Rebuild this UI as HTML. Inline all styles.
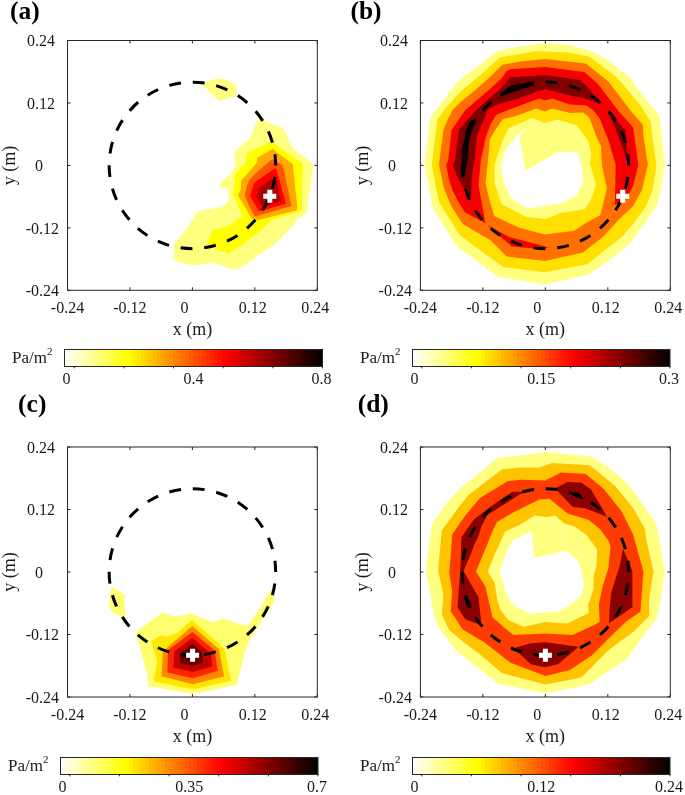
<!DOCTYPE html>
<html><head><meta charset="utf-8"><style>
html,body{margin:0;padding:0;background:#fff;}
svg{display:block;filter:blur(0.4px);}
.ax{stroke:#262626;stroke-width:1;fill:none;}
text{font-family:"Liberation Serif",serif;fill:#1a1a1a;}
.tk{font-size:16px;}
.lb{font-size:18px;}
.pl{font-size:25.5px;font-weight:bold;fill:#000;}
</style></head><body>
<svg width="685" height="795" viewBox="0 0 685 795">
<defs><linearGradient id="hotr" x1="0" x2="1" y1="0" y2="0"><stop offset="0.0000" stop-color="rgb(255,255,247)"/><stop offset="0.0156" stop-color="rgb(255,255,247)"/><stop offset="0.0156" stop-color="rgb(255,255,231)"/><stop offset="0.0312" stop-color="rgb(255,255,231)"/><stop offset="0.0312" stop-color="rgb(255,255,215)"/><stop offset="0.0469" stop-color="rgb(255,255,215)"/><stop offset="0.0469" stop-color="rgb(255,255,199)"/><stop offset="0.0625" stop-color="rgb(255,255,199)"/><stop offset="0.0625" stop-color="rgb(255,255,183)"/><stop offset="0.0781" stop-color="rgb(255,255,183)"/><stop offset="0.0781" stop-color="rgb(255,255,167)"/><stop offset="0.0938" stop-color="rgb(255,255,167)"/><stop offset="0.0938" stop-color="rgb(255,255,151)"/><stop offset="0.1094" stop-color="rgb(255,255,151)"/><stop offset="0.1094" stop-color="rgb(255,255,135)"/><stop offset="0.1250" stop-color="rgb(255,255,135)"/><stop offset="0.1250" stop-color="rgb(255,255,120)"/><stop offset="0.1406" stop-color="rgb(255,255,120)"/><stop offset="0.1406" stop-color="rgb(255,255,104)"/><stop offset="0.1562" stop-color="rgb(255,255,104)"/><stop offset="0.1562" stop-color="rgb(255,255,88)"/><stop offset="0.1719" stop-color="rgb(255,255,88)"/><stop offset="0.1719" stop-color="rgb(255,255,72)"/><stop offset="0.1875" stop-color="rgb(255,255,72)"/><stop offset="0.1875" stop-color="rgb(255,255,56)"/><stop offset="0.2031" stop-color="rgb(255,255,56)"/><stop offset="0.2031" stop-color="rgb(255,255,40)"/><stop offset="0.2188" stop-color="rgb(255,255,40)"/><stop offset="0.2188" stop-color="rgb(255,255,24)"/><stop offset="0.2344" stop-color="rgb(255,255,24)"/><stop offset="0.2344" stop-color="rgb(255,255,8)"/><stop offset="0.2500" stop-color="rgb(255,255,8)"/><stop offset="0.2500" stop-color="rgb(255,250,0)"/><stop offset="0.2656" stop-color="rgb(255,250,0)"/><stop offset="0.2656" stop-color="rgb(255,239,0)"/><stop offset="0.2812" stop-color="rgb(255,239,0)"/><stop offset="0.2812" stop-color="rgb(255,228,0)"/><stop offset="0.2969" stop-color="rgb(255,228,0)"/><stop offset="0.2969" stop-color="rgb(255,218,0)"/><stop offset="0.3125" stop-color="rgb(255,218,0)"/><stop offset="0.3125" stop-color="rgb(255,207,0)"/><stop offset="0.3281" stop-color="rgb(255,207,0)"/><stop offset="0.3281" stop-color="rgb(255,197,0)"/><stop offset="0.3438" stop-color="rgb(255,197,0)"/><stop offset="0.3438" stop-color="rgb(255,186,0)"/><stop offset="0.3594" stop-color="rgb(255,186,0)"/><stop offset="0.3594" stop-color="rgb(255,175,0)"/><stop offset="0.3750" stop-color="rgb(255,175,0)"/><stop offset="0.3750" stop-color="rgb(255,165,0)"/><stop offset="0.3906" stop-color="rgb(255,165,0)"/><stop offset="0.3906" stop-color="rgb(255,154,0)"/><stop offset="0.4062" stop-color="rgb(255,154,0)"/><stop offset="0.4062" stop-color="rgb(255,143,0)"/><stop offset="0.4219" stop-color="rgb(255,143,0)"/><stop offset="0.4219" stop-color="rgb(255,133,0)"/><stop offset="0.4375" stop-color="rgb(255,133,0)"/><stop offset="0.4375" stop-color="rgb(255,122,0)"/><stop offset="0.4531" stop-color="rgb(255,122,0)"/><stop offset="0.4531" stop-color="rgb(255,112,0)"/><stop offset="0.4688" stop-color="rgb(255,112,0)"/><stop offset="0.4688" stop-color="rgb(255,101,0)"/><stop offset="0.4844" stop-color="rgb(255,101,0)"/><stop offset="0.4844" stop-color="rgb(255,90,0)"/><stop offset="0.5000" stop-color="rgb(255,90,0)"/><stop offset="0.5000" stop-color="rgb(255,80,0)"/><stop offset="0.5156" stop-color="rgb(255,80,0)"/><stop offset="0.5156" stop-color="rgb(255,69,0)"/><stop offset="0.5312" stop-color="rgb(255,69,0)"/><stop offset="0.5312" stop-color="rgb(255,58,0)"/><stop offset="0.5469" stop-color="rgb(255,58,0)"/><stop offset="0.5469" stop-color="rgb(255,48,0)"/><stop offset="0.5625" stop-color="rgb(255,48,0)"/><stop offset="0.5625" stop-color="rgb(255,37,0)"/><stop offset="0.5781" stop-color="rgb(255,37,0)"/><stop offset="0.5781" stop-color="rgb(255,27,0)"/><stop offset="0.5938" stop-color="rgb(255,27,0)"/><stop offset="0.5938" stop-color="rgb(255,16,0)"/><stop offset="0.6094" stop-color="rgb(255,16,0)"/><stop offset="0.6094" stop-color="rgb(255,5,0)"/><stop offset="0.6250" stop-color="rgb(255,5,0)"/><stop offset="0.6250" stop-color="rgb(250,0,0)"/><stop offset="0.6406" stop-color="rgb(250,0,0)"/><stop offset="0.6406" stop-color="rgb(239,0,0)"/><stop offset="0.6562" stop-color="rgb(239,0,0)"/><stop offset="0.6562" stop-color="rgb(228,0,0)"/><stop offset="0.6719" stop-color="rgb(228,0,0)"/><stop offset="0.6719" stop-color="rgb(218,0,0)"/><stop offset="0.6875" stop-color="rgb(218,0,0)"/><stop offset="0.6875" stop-color="rgb(207,0,0)"/><stop offset="0.7031" stop-color="rgb(207,0,0)"/><stop offset="0.7031" stop-color="rgb(197,0,0)"/><stop offset="0.7188" stop-color="rgb(197,0,0)"/><stop offset="0.7188" stop-color="rgb(186,0,0)"/><stop offset="0.7344" stop-color="rgb(186,0,0)"/><stop offset="0.7344" stop-color="rgb(175,0,0)"/><stop offset="0.7500" stop-color="rgb(175,0,0)"/><stop offset="0.7500" stop-color="rgb(165,0,0)"/><stop offset="0.7656" stop-color="rgb(165,0,0)"/><stop offset="0.7656" stop-color="rgb(154,0,0)"/><stop offset="0.7812" stop-color="rgb(154,0,0)"/><stop offset="0.7812" stop-color="rgb(143,0,0)"/><stop offset="0.7969" stop-color="rgb(143,0,0)"/><stop offset="0.7969" stop-color="rgb(133,0,0)"/><stop offset="0.8125" stop-color="rgb(133,0,0)"/><stop offset="0.8125" stop-color="rgb(122,0,0)"/><stop offset="0.8281" stop-color="rgb(122,0,0)"/><stop offset="0.8281" stop-color="rgb(112,0,0)"/><stop offset="0.8438" stop-color="rgb(112,0,0)"/><stop offset="0.8438" stop-color="rgb(101,0,0)"/><stop offset="0.8594" stop-color="rgb(101,0,0)"/><stop offset="0.8594" stop-color="rgb(90,0,0)"/><stop offset="0.8750" stop-color="rgb(90,0,0)"/><stop offset="0.8750" stop-color="rgb(80,0,0)"/><stop offset="0.8906" stop-color="rgb(80,0,0)"/><stop offset="0.8906" stop-color="rgb(69,0,0)"/><stop offset="0.9062" stop-color="rgb(69,0,0)"/><stop offset="0.9062" stop-color="rgb(58,0,0)"/><stop offset="0.9219" stop-color="rgb(58,0,0)"/><stop offset="0.9219" stop-color="rgb(48,0,0)"/><stop offset="0.9375" stop-color="rgb(48,0,0)"/><stop offset="0.9375" stop-color="rgb(37,0,0)"/><stop offset="0.9531" stop-color="rgb(37,0,0)"/><stop offset="0.9531" stop-color="rgb(27,0,0)"/><stop offset="0.9688" stop-color="rgb(27,0,0)"/><stop offset="0.9688" stop-color="rgb(16,0,0)"/><stop offset="0.9844" stop-color="rgb(16,0,0)"/><stop offset="0.9844" stop-color="rgb(5,0,0)"/><stop offset="1.0000" stop-color="rgb(5,0,0)"/></linearGradient></defs>
<polygon points="202.7,85 207.8,81 217.6,78.4 227.8,80.2 235.5,85.3 237,90.1 235.9,95.9 219.1,101 211.8,94.1" fill="#FFFF80"/>
<polygon points="258.4,118.8 282.3,127.8 285.5,132 290.6,144.5 292.8,147.9 313.2,164.3 310.5,185 307,212.5 297.4,219.5 289,230 274.9,244 256.2,256.9 241,267.4 235.1,270 212.9,263 192.4,265.3 173.8,260.6 174.3,243.7 189.5,225 194.8,215 197.7,211.3 222.2,206.6 228.6,201.6 227.5,187.6 222.2,188.8 219.3,184.7 230.4,173.1 235,166.1 235,150.3 249.1,139.2" fill="#FFFF80"/>
<polygon points="271.5,141.5 303,164.3 302,187 301.9,210.2 300,211.4 272.6,219.5 258.5,232.4 243.4,244 228.6,253.4 205.9,245.4 212.9,229.7 225.7,227.3 242.5,216.6 233.3,194 235,180 235,175.4 239.7,168.4 246.1,162.6 246.7,153.2" fill="#FFFF00"/>
<polygon points="272.5,149.1 292.8,164.3 297.4,207.9 297.1,210.2 258.5,220.1 251.5,218.4 245,206.9 238,195.2 240.5,190 241.5,180 249,171.9 256.6,163.1 257.2,157.9" fill="#FFAA00"/>
<polygon points="272.5,159.2 282.8,165.6 291.5,206 255,216.6 249.5,207 244.7,195 247,186 249.3,180 258.4,170.7 268.7,162" fill="#FF5500"/>
<polygon points="275.3,168 276.4,169.5 285.9,203.8 258.9,211.5 250.1,195.8 254.5,182.6" fill="#FF0000"/>
<polygon points="274.5,177.5 276.5,181 281,201.6 261.5,206 256.7,196.5 259,187.7" fill="#AA0000"/>
<line x1="67.50" y1="290.30" x2="67.50" y2="287.30" class="ax"/>
<line x1="67.50" y1="40.50" x2="67.50" y2="43.50" class="ax"/>
<line x1="67.50" y1="290.30" x2="70.50" y2="290.30" class="ax"/>
<line x1="317.30" y1="290.30" x2="314.30" y2="290.30" class="ax"/>
<text x="67.50" y="313.30" class="tk" text-anchor="middle">-0.24</text>
<text x="59.00" y="296.10" class="tk" text-anchor="end">-0.24</text>
<line x1="129.95" y1="290.30" x2="129.95" y2="287.30" class="ax"/>
<line x1="129.95" y1="40.50" x2="129.95" y2="43.50" class="ax"/>
<line x1="67.50" y1="227.85" x2="70.50" y2="227.85" class="ax"/>
<line x1="317.30" y1="227.85" x2="314.30" y2="227.85" class="ax"/>
<text x="129.95" y="313.30" class="tk" text-anchor="middle">-0.12</text>
<text x="59.00" y="233.65" class="tk" text-anchor="end">-0.12</text>
<line x1="192.40" y1="290.30" x2="192.40" y2="287.30" class="ax"/>
<line x1="192.40" y1="40.50" x2="192.40" y2="43.50" class="ax"/>
<line x1="67.50" y1="165.40" x2="70.50" y2="165.40" class="ax"/>
<line x1="317.30" y1="165.40" x2="314.30" y2="165.40" class="ax"/>
<text x="184.40" y="313.30" class="tk" text-anchor="middle">0</text>
<text x="43.00" y="171.20" class="tk" text-anchor="end">0</text>
<line x1="254.85" y1="290.30" x2="254.85" y2="287.30" class="ax"/>
<line x1="254.85" y1="40.50" x2="254.85" y2="43.50" class="ax"/>
<line x1="67.50" y1="102.95" x2="70.50" y2="102.95" class="ax"/>
<line x1="317.30" y1="102.95" x2="314.30" y2="102.95" class="ax"/>
<text x="252.85" y="313.30" class="tk" text-anchor="middle">0.12</text>
<text x="55.00" y="108.75" class="tk" text-anchor="end">0.12</text>
<line x1="317.30" y1="290.30" x2="317.30" y2="287.30" class="ax"/>
<line x1="317.30" y1="40.50" x2="317.30" y2="43.50" class="ax"/>
<line x1="67.50" y1="40.50" x2="70.50" y2="40.50" class="ax"/>
<line x1="317.30" y1="40.50" x2="314.30" y2="40.50" class="ax"/>
<text x="315.30" y="313.30" class="tk" text-anchor="middle">0.24</text>
<text x="55.00" y="46.30" class="tk" text-anchor="end">0.24</text>
<rect x="67.50" y="40.50" width="249.80" height="249.80" class="ax" fill="none"/>
<text x="192.40" y="335.30" class="lb" text-anchor="middle">x (m)</text>
<text transform="translate(15.10 165.40) rotate(-90)" class="lb" text-anchor="middle">y (m)</text>
<circle cx="192.40" cy="-165.40" r="83.27" fill="none" stroke="#000" stroke-width="3.0" stroke-dasharray="11.900 11.881" stroke-dashoffset="0.6" transform="translate(0 0.00) scale(1 -1)"/>
<path d="M263.30 193.80h13v5h-13z M267.30 189.80h5v13h-5z" fill="#fff"/>
<rect x="64.50" y="349.50" width="258.00" height="17.00" fill="url(#hotr)" stroke="#262626" stroke-width="1"/>
<line x1="322.50" y1="366.50" x2="322.50" y2="368.30" class="ax"/>
<line x1="272.85" y1="366.50" x2="272.85" y2="368.30" class="ax"/>
<line x1="223.20" y1="366.50" x2="223.20" y2="368.30" class="ax"/>
<line x1="173.55" y1="366.50" x2="173.55" y2="368.30" class="ax"/>
<line x1="123.90" y1="366.50" x2="123.90" y2="368.30" class="ax"/>
<line x1="74.25" y1="366.50" x2="74.25" y2="368.30" class="ax"/>
<text x="66.50" y="383.90" class="tk" text-anchor="middle">0</text>
<text x="193.50" y="383.90" class="tk" text-anchor="middle">0.4</text>
<text x="321.50" y="383.90" class="tk" text-anchor="middle">0.8</text>
<text x="52.50" y="362.70" class="tk" text-anchor="end" style="font-size:17px">Pa/m<tspan dy="-7.5" font-size="11">2</tspan></text>
<polygon points="545,42.9 568.4,45.1 591.8,51 608.4,60.4 628.8,76.5 647.5,101.5 659.5,115.9 660.9,130 664.6,165 660.9,189.9 656.5,205.9 646.3,220.5 629.7,243.8 607.8,261.3 588.8,274.5 545.1,284.5 497.8,276.7 457.5,246.9 443.5,225 433.2,208.9 429.4,190 424.4,165 428.8,130 430.2,117.4 444.8,98.4 456.5,82.3 481.3,63.4 497.4,51 520,46.6" fill="#FFFF80"/>
<polygon points="536.3,51 568.4,52.4 589.6,56.8 615.7,76.5 624,85.5 640.5,105.7 650.7,121.8 652.2,135 656.5,165.8 652.2,191.3 646.3,205.9 633.2,223.4 622.4,236.5 587.3,264.2 545.1,272.3 503,267 459.7,235.3 439,201.7 436.2,189 431.7,165 436.1,130 437.5,119.6 445,109 461.5,90.4 481.3,74.3 499.6,57.5 520,53.9" fill="#FFE000"/>
<polygon points="545,59 585.9,63.4 608.4,81.6 630,110 642.7,124.7 643.4,135 647.8,165 641.9,189.9 633.2,205.9 619.5,219 603.4,236.5 583,252.6 545.1,261 506.6,256.5 490.4,240.3 462.8,224 451.4,206.4 444,188.5 439,165 443.4,130 447,121 452.5,110 460,102.5 476.7,89 491,76 502.5,64.8 520,61.6" fill="#FF7000"/>
<polygon points="614.9,205 625.9,200 633.2,185.5 638.3,165 633.2,127.6 617.6,110 598,84 584.5,72.1 545,67 510,69.2 506.1,71.4 501.8,78 490,89 465.4,110 451.6,130 448.2,160 446.3,165 449,180 452.4,190 457.3,200 464.9,212.3 485.4,223.3 478.5,185 480.9,160 486,136 490.5,124.5 496.4,114.7 515,107.4 539.2,98.4 545,100.6 552.3,98.4 570,104.6 586.6,105.5 593,110 600,119 604.2,130 608.5,140 615.7,165 614.9,203" fill="#F50000"/>
<polygon points="487.5,225 509,237 549,247.5 535,248.5 511.7,246.5" fill="#F50000"/>
<polygon points="601,104.2 588.8,88.2 580,80.1 545,75 510,77.2 500.2,89 476.1,110 458.7,130 455.3,160 452.8,165 458,178.2 470.5,201 471.5,185 472.5,170 474.7,160 476.8,136 484.7,117.6 487.6,109.6 497.8,104.5 515,99.4 545,88.9 570,95.4 587.5,98.9" fill="#800000"/>
<polygon points="609,114 615,119 625.5,130.5 627.5,150 628.5,167 623.2,149.3 616,130" fill="#800000"/>
<polygon points="500,93.5 502,96 534.5,85 533.5,81.5 522,83.5 512,85" fill="#0A0000"/>
<polygon points="474.5,119 470,121 465.5,131 461.5,160 461.5,176 464.5,176 467.5,160 469,140 475.5,122" fill="#0A0000"/>
<polygon points="536.3,108.6 545,111.5 552.3,108.6 570,112.9 583,112.5 589,117.3 592,124.3 594,130 597,138 601,146.1 601.8,165 606.9,188.4 604,200 600.5,215 585,223.4 574.2,230.7 545,234.5 519,227.7 494.2,216.1 489.5,200 485.5,183 488,160 490,139 496.5,128 503,119.1 515,116.2" fill="#FFE000"/>
<polygon points="508.9,128.1 532.2,117.9 544.6,123 557.8,119.4 576.8,125.2 588.4,141.3 591.4,154.4 589.9,163.2 596,185 590.8,200 585,209 560.7,213 545,219 526.3,217 501.5,204 494.5,183 494.5,165 502.3,141.3" fill="#FFFF80"/>
<polygon points="525.7,170.5 559.2,151.5 577.5,152.2 581.1,164.6 583.5,182 576.8,195.3 560.7,203.3 527.1,208.4 511.1,198.2 503.8,182.2 500.8,166.1 506,148.6 517.6,134.7 526.5,128 519.5,137" fill="#FFFFFF"/>
<line x1="420.40" y1="290.30" x2="420.40" y2="287.30" class="ax"/>
<line x1="420.40" y1="40.50" x2="420.40" y2="43.50" class="ax"/>
<line x1="420.40" y1="290.30" x2="423.40" y2="290.30" class="ax"/>
<line x1="670.30" y1="290.30" x2="667.30" y2="290.30" class="ax"/>
<text x="420.40" y="313.30" class="tk" text-anchor="middle">-0.24</text>
<text x="411.90" y="296.10" class="tk" text-anchor="end">-0.24</text>
<line x1="482.87" y1="290.30" x2="482.87" y2="287.30" class="ax"/>
<line x1="482.87" y1="40.50" x2="482.87" y2="43.50" class="ax"/>
<line x1="420.40" y1="227.85" x2="423.40" y2="227.85" class="ax"/>
<line x1="670.30" y1="227.85" x2="667.30" y2="227.85" class="ax"/>
<text x="482.87" y="313.30" class="tk" text-anchor="middle">-0.12</text>
<text x="411.90" y="233.65" class="tk" text-anchor="end">-0.12</text>
<line x1="545.35" y1="290.30" x2="545.35" y2="287.30" class="ax"/>
<line x1="545.35" y1="40.50" x2="545.35" y2="43.50" class="ax"/>
<line x1="420.40" y1="165.40" x2="423.40" y2="165.40" class="ax"/>
<line x1="670.30" y1="165.40" x2="667.30" y2="165.40" class="ax"/>
<text x="537.35" y="313.30" class="tk" text-anchor="middle">0</text>
<text x="395.90" y="171.20" class="tk" text-anchor="end">0</text>
<line x1="607.82" y1="290.30" x2="607.82" y2="287.30" class="ax"/>
<line x1="607.82" y1="40.50" x2="607.82" y2="43.50" class="ax"/>
<line x1="420.40" y1="102.95" x2="423.40" y2="102.95" class="ax"/>
<line x1="670.30" y1="102.95" x2="667.30" y2="102.95" class="ax"/>
<text x="605.82" y="313.30" class="tk" text-anchor="middle">0.12</text>
<text x="407.90" y="108.75" class="tk" text-anchor="end">0.12</text>
<line x1="670.30" y1="290.30" x2="670.30" y2="287.30" class="ax"/>
<line x1="670.30" y1="40.50" x2="670.30" y2="43.50" class="ax"/>
<line x1="420.40" y1="40.50" x2="423.40" y2="40.50" class="ax"/>
<line x1="670.30" y1="40.50" x2="667.30" y2="40.50" class="ax"/>
<text x="668.30" y="313.30" class="tk" text-anchor="middle">0.24</text>
<text x="407.90" y="46.30" class="tk" text-anchor="end">0.24</text>
<rect x="420.40" y="40.50" width="249.90" height="249.80" class="ax" fill="none"/>
<text x="545.35" y="335.30" class="lb" text-anchor="middle">x (m)</text>
<text transform="translate(368.00 165.40) rotate(-90)" class="lb" text-anchor="middle">y (m)</text>
<circle cx="545.35" cy="-165.40" r="83.30" fill="none" stroke="#000" stroke-width="3.0" stroke-dasharray="11.900 11.890" stroke-dashoffset="0.6" transform="translate(0 0.00) scale(1 -1)"/>
<path d="M616.20 193.80h13v5h-13z M620.20 189.80h5v13h-5z" fill="#fff"/>
<rect x="412.50" y="349.50" width="257.50" height="17.00" fill="url(#hotr)" stroke="#262626" stroke-width="1"/>
<line x1="670.00" y1="366.50" x2="670.00" y2="368.30" class="ax"/>
<line x1="620.35" y1="366.50" x2="620.35" y2="368.30" class="ax"/>
<line x1="570.70" y1="366.50" x2="570.70" y2="368.30" class="ax"/>
<line x1="521.05" y1="366.50" x2="521.05" y2="368.30" class="ax"/>
<line x1="471.40" y1="366.50" x2="471.40" y2="368.30" class="ax"/>
<line x1="421.75" y1="366.50" x2="421.75" y2="368.30" class="ax"/>
<text x="414.50" y="383.90" class="tk" text-anchor="middle">0</text>
<text x="541.25" y="383.90" class="tk" text-anchor="middle">0.15</text>
<text x="669.00" y="383.90" class="tk" text-anchor="middle">0.3</text>
<text x="400.50" y="362.70" class="tk" text-anchor="end" style="font-size:17px">Pa/m<tspan dy="-7.5" font-size="11">2</tspan></text>
<polygon points="111.8,586.6 125,594.9 124.3,600 125.4,616.8 120,616 113.1,612.8 108.8,606.3 110.5,594" fill="#FFFF6D"/>
<polygon points="135.1,632.2 162.8,612.4 173,616.3 179.8,615.8 191.8,613.5 213.3,622.6 222.4,618.6 247.2,626.3 264.8,601.1 265,598.5 272.3,588.8 274,596 273.2,603.8 249.4,639.9 245.4,650 236.6,685 192.8,693.8 148.1,685.9 147,673 141.3,652.6" fill="#FFFF6D"/>
<polygon points="151.5,641.2 160.6,635.6 167.4,636.7 177.6,632.7 192,619.8 224.6,649.2 230.3,677.5 231.4,680.7 192.8,689.4 154.3,681.5 153.8,679.8 157.2,661.6" fill="#FFE700"/>
<polygon points="192.3,626 219,649.2 223.5,674.1 224.3,676.3 192.8,684.2 161.3,676.3 161.7,675.2 162.8,651.4" fill="#FF8600"/>
<polygon points="192.3,632 214.4,650.3 217.8,670.8 192.8,678.3 167.6,672.5 167.9,650.3" fill="#FF2400"/>
<polygon points="192.3,637.8 211,653.7 212.2,666.4 192.8,672 173.5,667.5 174.2,651.4" fill="#C20000"/>
<polygon points="192.3,644.1 202,652.6 203.1,662.8 192.8,665.8 180.5,663.1 179.8,653.7" fill="#610000"/>
<line x1="67.50" y1="697.00" x2="67.50" y2="694.00" class="ax"/>
<line x1="67.50" y1="447.00" x2="67.50" y2="450.00" class="ax"/>
<line x1="67.50" y1="697.00" x2="70.50" y2="697.00" class="ax"/>
<line x1="317.30" y1="697.00" x2="314.30" y2="697.00" class="ax"/>
<text x="67.50" y="720.00" class="tk" text-anchor="middle">-0.24</text>
<text x="59.00" y="702.80" class="tk" text-anchor="end">-0.24</text>
<line x1="129.95" y1="697.00" x2="129.95" y2="694.00" class="ax"/>
<line x1="129.95" y1="447.00" x2="129.95" y2="450.00" class="ax"/>
<line x1="67.50" y1="634.50" x2="70.50" y2="634.50" class="ax"/>
<line x1="317.30" y1="634.50" x2="314.30" y2="634.50" class="ax"/>
<text x="129.95" y="720.00" class="tk" text-anchor="middle">-0.12</text>
<text x="59.00" y="640.30" class="tk" text-anchor="end">-0.12</text>
<line x1="192.40" y1="697.00" x2="192.40" y2="694.00" class="ax"/>
<line x1="192.40" y1="447.00" x2="192.40" y2="450.00" class="ax"/>
<line x1="67.50" y1="572.00" x2="70.50" y2="572.00" class="ax"/>
<line x1="317.30" y1="572.00" x2="314.30" y2="572.00" class="ax"/>
<text x="184.40" y="720.00" class="tk" text-anchor="middle">0</text>
<text x="43.00" y="577.80" class="tk" text-anchor="end">0</text>
<line x1="254.85" y1="697.00" x2="254.85" y2="694.00" class="ax"/>
<line x1="254.85" y1="447.00" x2="254.85" y2="450.00" class="ax"/>
<line x1="67.50" y1="509.50" x2="70.50" y2="509.50" class="ax"/>
<line x1="317.30" y1="509.50" x2="314.30" y2="509.50" class="ax"/>
<text x="252.85" y="720.00" class="tk" text-anchor="middle">0.12</text>
<text x="55.00" y="515.30" class="tk" text-anchor="end">0.12</text>
<line x1="317.30" y1="697.00" x2="317.30" y2="694.00" class="ax"/>
<line x1="317.30" y1="447.00" x2="317.30" y2="450.00" class="ax"/>
<line x1="67.50" y1="447.00" x2="70.50" y2="447.00" class="ax"/>
<line x1="317.30" y1="447.00" x2="314.30" y2="447.00" class="ax"/>
<text x="315.30" y="720.00" class="tk" text-anchor="middle">0.24</text>
<text x="55.00" y="452.80" class="tk" text-anchor="end">0.24</text>
<rect x="67.50" y="447.00" width="249.80" height="250.00" class="ax" fill="none"/>
<text x="192.40" y="742.00" class="lb" text-anchor="middle">x (m)</text>
<text transform="translate(15.10 572.00) rotate(-90)" class="lb" text-anchor="middle">y (m)</text>
<circle cx="192.40" cy="-572.00" r="83.27" fill="none" stroke="#000" stroke-width="3.0" stroke-dasharray="11.900 11.881" stroke-dashoffset="0.6" transform="translate(0 0.00) scale(1 -1)"/>
<path d="M186.10 652.80h13v5h-13z M190.10 648.80h5v13h-5z" fill="#fff"/>
<rect x="60.50" y="757.50" width="257.50" height="17.00" fill="url(#hotr)" stroke="#262626" stroke-width="1"/>
<line x1="318.00" y1="774.50" x2="318.00" y2="776.30" class="ax"/>
<line x1="268.35" y1="774.50" x2="268.35" y2="776.30" class="ax"/>
<line x1="218.70" y1="774.50" x2="218.70" y2="776.30" class="ax"/>
<line x1="169.05" y1="774.50" x2="169.05" y2="776.30" class="ax"/>
<line x1="119.40" y1="774.50" x2="119.40" y2="776.30" class="ax"/>
<line x1="69.75" y1="774.50" x2="69.75" y2="776.30" class="ax"/>
<text x="62.50" y="791.90" class="tk" text-anchor="middle">0</text>
<text x="189.25" y="791.90" class="tk" text-anchor="middle">0.35</text>
<text x="317.00" y="791.90" class="tk" text-anchor="middle">0.7</text>
<text x="48.50" y="770.70" class="tk" text-anchor="end" style="font-size:17px">Pa/m<tspan dy="-7.5" font-size="11">2</tspan></text>
<polygon points="546.5,452.1 592,456.8 608.4,467.4 627.3,483.5 640.5,501 656.5,524.4 659.5,540 664.6,571.4 660.9,598.4 656.5,618.8 645,633.6 626.8,658.4 590.3,683.9 545.3,693.4 498.8,683.9 469.6,661.3 455,649.6 440.4,630 434.6,619 431,597.2 425.8,570.9 431,530 432.4,522.9 444.8,505.4 459.4,489.3 478.4,474 497.4,458 510,456.5 520,455.8" fill="#FFFF80"/>
<polygon points="539.2,467.4 552.3,463.1 590,465.2 615.7,486.4 633.2,508.3 644.9,528.8 646.3,540 653.6,571.4 649.2,598.4 649.2,615.9 633.2,632 609.2,649.6 581.5,677.4 545.5,684.5 501.7,673 481.3,655.5 463.8,642.3 455,635 449.2,630 441.9,614.7 443.4,594.2 438.2,570.9 439,559.2 441.9,530.2 458,508.3 468.2,495.2 501.8,469.6 520,467.4" fill="#FFC400"/>
<polygon points="545,480.6 561.1,472.5 585.9,474 604,489.3 621.5,511.2 633.2,534.6 643.4,571.4 640.5,611.5 625.9,621.8 612.2,635 591.7,655.5 569.8,670.1 545.5,675.9 510.5,662.8 484.2,642.3 462.3,629.2 455,617.5 450.7,611.8 452.1,591.3 449.2,572.3 450.7,556.3 452.1,534.6 465.3,515.6 479.9,498.1 507.6,481.3 520,479.8" fill="#FF3C00"/>
<polygon points="523.9,491.7 512.2,491.7 490,506.9 473.7,519.7 461.4,537.2 460.8,560 460.1,572.3 457.5,607.5 465.3,619.2 481.6,625.5 478.4,597 463.5,571 470,556 475,543 478,537.7 481.4,526.3 487.5,514.9 504,504.5 520.4,494 525,492.3" fill="#8B0000"/>
<polygon points="555,488.5 567.3,482.1 581.5,482.8 590.8,489.3 604,511.2 606.9,517.1 600.5,514.2 585,508.3 572.8,506.9" fill="#8B0000"/>
<polygon points="623,548.8 632.4,570.7 632.4,607.2 609.1,623.2 609.5,610 611.3,592.6 620,565" fill="#8B0000"/>
<polygon points="513.4,648.2 530,643.5 545.3,642.3 578.6,646.7 558.1,664.2 545,667.2 530.9,664.2" fill="#8B0000"/>
<polygon points="568.4,491.4 569,493.5 572.5,494.4 575.4,497.3 583.6,499.6 582.4,496.7 578.4,492.6 574.3,492.3 570.2,491.1" fill="#0A0000"/>
<polygon points="463.7,595.5 466.4,595.2 470.4,602.5 471.6,608.4 467.5,607.2 465.8,602.5 464,597.8" fill="#0A0000"/>
<polygon points="539.2,499.6 549.4,498.8 567.5,513.5 588.8,520 599.6,528.8 608.4,540.4 610.5,546 608.5,568 602.5,586.7 598.9,604.2 599.6,621.8 594.6,624.8 572.7,635 545,633.6 513.4,635 504,627.4 492.4,616.9 488.9,601.7 485.4,586.5 476,571.4 482,557 493.5,529 497,522 513,512.5" fill="#FFC400"/>
<polygon points="534.8,515.6 546.5,517.1 555.3,515.6 564,523.5 574.5,526.5 586.8,535.3 590.1,540 597.2,549.6 596.3,566.3 593.6,576.8 593.6,589 589.5,601 587.9,604.2 588.8,613.1 566.9,623.4 545,621.9 524,626.8 508.7,620.4 500.5,610 497.3,600 494.7,583 487.7,571.4 493.5,557 505.2,531.4 520.4,524.4" fill="#FFFF80"/>
<polygon points="530,531.7 532.2,533.1 533.7,558 566.5,550.7 576.8,559.4 580.4,566.7 584.1,584.2 581.1,595.9 572.4,603.2 557.8,612 528.6,613.4 512.5,604.7 505.2,591.5 499.4,571.1 506.7,552.1 512.5,540.4" fill="#FFFFFF"/>
<polygon points="558.8,532.1 559.4,532.9 565.3,536.7 565.6,535.9" fill="#FFFFFF"/>
<polygon points="579.1,549.6 579.8,549.3 584.4,557.6 583.8,558.2" fill="#FFFFFF"/>
<line x1="420.40" y1="697.00" x2="420.40" y2="694.00" class="ax"/>
<line x1="420.40" y1="447.00" x2="420.40" y2="450.00" class="ax"/>
<line x1="420.40" y1="697.00" x2="423.40" y2="697.00" class="ax"/>
<line x1="670.30" y1="697.00" x2="667.30" y2="697.00" class="ax"/>
<text x="420.40" y="720.00" class="tk" text-anchor="middle">-0.24</text>
<text x="411.90" y="702.80" class="tk" text-anchor="end">-0.24</text>
<line x1="482.87" y1="697.00" x2="482.87" y2="694.00" class="ax"/>
<line x1="482.87" y1="447.00" x2="482.87" y2="450.00" class="ax"/>
<line x1="420.40" y1="634.50" x2="423.40" y2="634.50" class="ax"/>
<line x1="670.30" y1="634.50" x2="667.30" y2="634.50" class="ax"/>
<text x="482.87" y="720.00" class="tk" text-anchor="middle">-0.12</text>
<text x="411.90" y="640.30" class="tk" text-anchor="end">-0.12</text>
<line x1="545.35" y1="697.00" x2="545.35" y2="694.00" class="ax"/>
<line x1="545.35" y1="447.00" x2="545.35" y2="450.00" class="ax"/>
<line x1="420.40" y1="572.00" x2="423.40" y2="572.00" class="ax"/>
<line x1="670.30" y1="572.00" x2="667.30" y2="572.00" class="ax"/>
<text x="537.35" y="720.00" class="tk" text-anchor="middle">0</text>
<text x="395.90" y="577.80" class="tk" text-anchor="end">0</text>
<line x1="607.82" y1="697.00" x2="607.82" y2="694.00" class="ax"/>
<line x1="607.82" y1="447.00" x2="607.82" y2="450.00" class="ax"/>
<line x1="420.40" y1="509.50" x2="423.40" y2="509.50" class="ax"/>
<line x1="670.30" y1="509.50" x2="667.30" y2="509.50" class="ax"/>
<text x="605.82" y="720.00" class="tk" text-anchor="middle">0.12</text>
<text x="407.90" y="515.30" class="tk" text-anchor="end">0.12</text>
<line x1="670.30" y1="697.00" x2="670.30" y2="694.00" class="ax"/>
<line x1="670.30" y1="447.00" x2="670.30" y2="450.00" class="ax"/>
<line x1="420.40" y1="447.00" x2="423.40" y2="447.00" class="ax"/>
<line x1="670.30" y1="447.00" x2="667.30" y2="447.00" class="ax"/>
<text x="668.30" y="720.00" class="tk" text-anchor="middle">0.24</text>
<text x="407.90" y="452.80" class="tk" text-anchor="end">0.24</text>
<rect x="420.40" y="447.00" width="249.90" height="250.00" class="ax" fill="none"/>
<text x="545.35" y="742.00" class="lb" text-anchor="middle">x (m)</text>
<text transform="translate(368.00 572.00) rotate(-90)" class="lb" text-anchor="middle">y (m)</text>
<circle cx="545.35" cy="-572.00" r="83.30" fill="none" stroke="#000" stroke-width="3.0" stroke-dasharray="11.900 11.890" stroke-dashoffset="0.6" transform="translate(0 0.00) scale(1 -1)"/>
<path d="M538.90 652.80h13v5h-13z M542.90 648.80h5v13h-5z" fill="#fff"/>
<rect x="412.50" y="757.50" width="257.50" height="17.00" fill="url(#hotr)" stroke="#262626" stroke-width="1"/>
<line x1="670.00" y1="774.50" x2="670.00" y2="776.30" class="ax"/>
<line x1="620.35" y1="774.50" x2="620.35" y2="776.30" class="ax"/>
<line x1="570.70" y1="774.50" x2="570.70" y2="776.30" class="ax"/>
<line x1="521.05" y1="774.50" x2="521.05" y2="776.30" class="ax"/>
<line x1="471.40" y1="774.50" x2="471.40" y2="776.30" class="ax"/>
<line x1="421.75" y1="774.50" x2="421.75" y2="776.30" class="ax"/>
<text x="414.50" y="791.90" class="tk" text-anchor="middle">0</text>
<text x="541.25" y="791.90" class="tk" text-anchor="middle">0.12</text>
<text x="669.00" y="791.90" class="tk" text-anchor="middle">0.24</text>
<text x="400.50" y="770.70" class="tk" text-anchor="end" style="font-size:17px">Pa/m<tspan dy="-7.5" font-size="11">2</tspan></text>
<text x="9.9" y="19" class="pl">(a)</text>
<text x="350.4" y="19" class="pl">(b)</text>
<text x="18.1" y="412" class="pl">(c)</text>
<text x="357.7" y="412" class="pl">(d)</text>
</svg>
</body></html>
